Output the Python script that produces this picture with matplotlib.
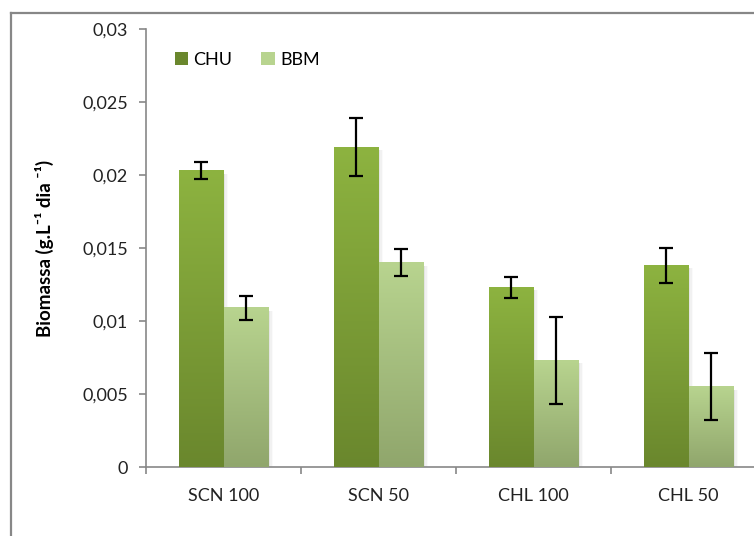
import numpy as np
import matplotlib
matplotlib.use("Agg")
import matplotlib.pyplot as plt
from matplotlib.colors import LinearSegmentedColormap
from matplotlib.lines import Line2D
from matplotlib.patches import Patch

plt.rcParams['font.family'] = ['Lato', 'DejaVu Sans']

categories = ["SCN 100", "SCN 50", "CHL 100", "CHL 50"]
series = ["CHU", "BBM"]
chu_values = [0.0203, 0.0219, 0.0123, 0.0138]
chu_errors = [0.0006, 0.0020, 0.0007, 0.0012]
bbm_values = [0.0109, 0.0140, 0.0073, 0.0055]
bbm_errors = [0.0008, 0.0009, 0.0030, 0.0023]
y_ticks = [0, 0.005, 0.01, 0.015, 0.02, 0.025, 0.03]
y_tick_labels = ["0", "0,005", "0,01", "0,015", "0,02", "0,025", "0,03"]

# (top colour, bottom colour) of each series' vertical gradient
gradients = {
    "CHU": ("#8db340", "#6a872d"),
    "BBM": ("#b8d48f", "#90a66c"),
}

fig = plt.figure(figsize=(7.54, 5.36), dpi=100)
ax = fig.add_axes([146 / 754, 1 - 467 / 536, 620 / 754, 438 / 536])

# outer chart frame (left and top edges visible)
fig.add_artist(Line2D([11 / 754, 11 / 754], [-0.05, 1 - 13 / 536],
                      transform=fig.transFigure, color="#878787", lw=1.6))
fig.add_artist(Line2D([11 / 754, 1.05], [1 - 13 / 536, 1 - 13 / 536],
                      transform=fig.transFigure, color="#878787", lw=1.6))

x = np.arange(len(categories))
width = 0.29

for offset, name, vals, errs in [(-width / 2, "CHU", chu_values, chu_errors),
                                 (width / 2, "BBM", bbm_values, bbm_errors)]:
    bars = ax.bar(x + offset, vals, width, color="none", edgecolor="none", zorder=2)
    top, bottom = gradients[name]
    cmap = LinearSegmentedColormap.from_list(name, [bottom, top])
    grad = np.linspace(0, 1, 256).reshape(-1, 1)
    for b in bars:
        x0, w, h = b.get_x(), b.get_width(), b.get_height()
        # soft shadow to the right of each bar
        for k, a in enumerate([0.05, 0.035, 0.02]):
            ax.add_patch(plt.Rectangle((x0 + 0.01 * (k + 1), -0.0002), w, h,
                                       color="#000000", alpha=a, lw=0, zorder=1))
        ax.imshow(grad, extent=(x0, x0 + w, 0, h), origin="lower", cmap=cmap,
                  aspect="auto", zorder=3, interpolation="bicubic")
    ax.errorbar(x + offset, vals, yerr=errs, fmt="none", ecolor="black",
                elinewidth=1.6, capsize=5, capthick=1.6, zorder=5)

ax.set_xlim(-0.5, len(categories) - 0.5)
ax.set_ylim(0, 0.03)
ax.set_yticks(y_ticks)
ax.set_yticklabels(y_tick_labels, fontsize=13, color="#222222")
ax.set_xticks(x)
ax.set_xticklabels(categories, fontsize=13, color="#222222")
ax.set_xticks(np.arange(len(categories) + 1) - 0.5, minor=True)
ax.tick_params(axis="x", which="major", length=0, pad=15)
ax.tick_params(axis="x", which="minor", length=5, width=1.2, color="#878787")
ax.tick_params(axis="y", length=5, width=1.2, color="#878787", pad=8)

for s in ["top", "right"]:
    ax.spines[s].set_visible(False)
for s in ["left", "bottom"]:
    ax.spines[s].set_color("#878787")
    ax.spines[s].set_linewidth(1.2)

ax.set_ylabel("Biomassa (g.L⁻¹ dia ⁻¹)", fontsize=13.5,
              fontweight="bold", labelpad=20)

handles = [Patch(facecolor=gradients["CHU"][1]), Patch(facecolor=gradients["BBM"][0])]
ax.legend(handles, series, loc="upper left", bbox_to_anchor=(0.02, 0.985),
          ncol=2, frameon=False, fontsize=13, handlelength=0.75, handleheight=0.75,
          handletextpad=0.3, columnspacing=1.6)

fig.savefig("out.png", dpi=100)
